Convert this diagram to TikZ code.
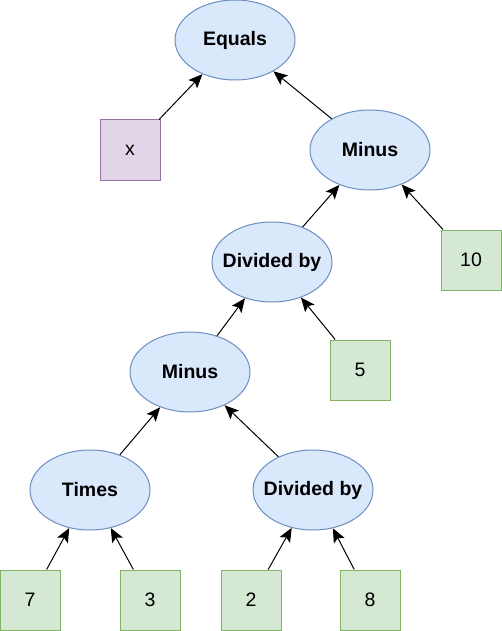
\documentclass[tikz,border=0pt]{standalone}
\usepackage{fontspec}
\setmainfont{Liberation Sans}
\usepackage{xcolor}
\usetikzlibrary{positioning,arrows.meta,shapes.geometric}

\definecolor{opfill}{HTML}{DAE8FC}
\definecolor{opdraw}{HTML}{6C8EBF}
\definecolor{varfill}{HTML}{E1D5E7}
\definecolor{vardraw}{HTML}{9673A6}
\definecolor{numfill}{HTML}{D5E8D4}
\definecolor{numdraw}{HTML}{82B366}

\begin{document}
\begin{tikzpicture}[x=1pt, y=-1pt,
    op/.style={ellipse, draw=opdraw, fill=opfill, line width=1pt, minimum width=120pt, minimum height=80pt, inner xsep=-12pt, inner ysep=0pt, font=\fontsize{19.5}{22}\selectfont\bfseries},
    var/.style={rectangle, draw=vardraw, fill=varfill, line width=1pt, minimum size=60pt, inner sep=0pt, font=\fontsize{19.5}{22}\selectfont},
    num/.style={rectangle, draw=numdraw, fill=numfill, line width=1pt, minimum size=60pt, inner sep=0pt, font=\fontsize{19.5}{22}\selectfont},
    arrow/.style={-{Stealth[length=14pt, width=12pt, inset=3pt]}, line width=1pt}]

    \useasboundingbox (0,0) rectangle (501,631);

    % operators
    \node[op] (equals) at (235,40) {Equals};
    \node[op] (minusA) at (370,150) {Minus};
    \node[op] (divA) at (272,262) {Divided by};
    \node[op] (minusB) at (190,372) {Minus};
    \node[op] (times) at (90,490) {Times};
    \node[op] (divB) at (313,490) {Divided by};

    % leaves
    \node[var] (x) at (130,150) {x};
    \node[num] (ten) at (471,260) {10};
    \node[num] (five) at (360,370) {5};
    \node[num] (seven) at (30,600) {7};
    \node[num] (three) at (150,600) {3};
    \node[num] (two) at (251,600) {2};
    \node[num] (eight) at (370,600) {8};

    \draw[arrow] (x) -- (equals);
    \draw[arrow] (minusA) -- (equals);
    \draw[arrow] (divA) -- (minusA);
    \draw[arrow] (ten) -- (minusA);
    \draw[arrow] (minusB) -- (divA);
    \draw[arrow] (five) -- (divA);
    \draw[arrow] (times) -- (minusB);
    \draw[arrow] (divB) -- (minusB);
    \draw[arrow] (seven) -- (times);
    \draw[arrow] (three) -- (times);
    \draw[arrow] (two) -- (divB);
    \draw[arrow] (eight) -- (divB);
\end{tikzpicture}
\end{document}
